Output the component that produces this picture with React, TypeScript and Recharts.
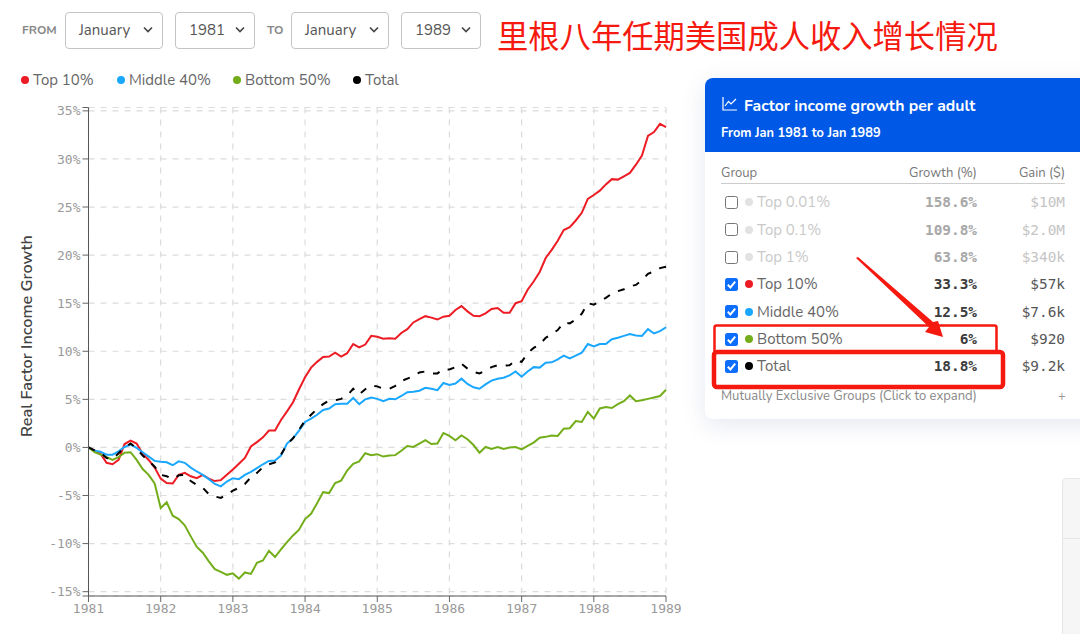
import React from "react";
import { LineChart, Line, XAxis, YAxis, CartesianGrid, Legend } from "recharts";

const MONTHS_FROM_START = Array.from({ length: 97 }, (_, i) => i);
const top10 = [0,-0.3,-0.65,-1.6,-1.75,-1.3,0.35,0.7,0.4,-0.65,-1.3,-2.1,-3.25,-3.7,-3.75,-2.85,-2.65,-3,-3.2,-2.85,-3.25,-3.5,-3.4,-2.85,-2.3,-1.7,-1.1,0.1,0.55,1.05,1.75,1.75,2.85,3.75,4.7,6.05,7.3,8.3,8.9,9.4,9.45,9.85,9.45,9.8,10.75,10.4,10.7,11.6,11.5,11.3,11.35,11.3,11.9,12.3,13,13.35,13.65,13.5,13.3,13.6,13.7,14.3,14.7,14.15,13.7,13.65,13.95,14.4,14.5,14,14,15,15.2,16.4,17.25,18.25,19.7,20.55,21.5,22.6,22.9,23.6,24.4,25.85,26.25,26.7,27.35,27.9,27.85,28.2,28.55,29.4,30.35,32.4,32.8,33.65,33.3];
const middle40 = [0,-0.35,-0.45,-0.75,-0.75,-0.4,0.05,0.3,-0.05,-0.5,-0.95,-1.4,-1.5,-1.55,-1.85,-1.45,-1.6,-2.1,-2.5,-2.85,-3.3,-3.8,-4.05,-3.55,-3.2,-3.3,-2.85,-2.55,-2.15,-1.75,-1.4,-1.35,-0.85,0.4,0.95,1.75,2.65,3,3.4,3.9,4.05,4.5,4.55,4.55,5.15,4.5,5,5.2,5.05,4.8,5.05,5,5.35,5.75,5.8,5.9,6.2,6.1,5.95,6.7,6.5,6.65,7.15,6.6,6.25,6.1,6.55,6.95,7.15,7.25,7.5,7.9,7.35,7.9,8.35,8.3,8.8,8.85,9.15,9.55,9.25,9.55,9.85,10.75,10.5,10.75,10.75,11.25,11.4,11.6,11.8,11.65,11.6,12.3,11.85,12.1,12.5];
const bottom50 = [0,-0.5,-0.75,-1,-1.3,-1,-0.55,-0.5,-1.3,-2.25,-2.85,-3.75,-6.3,-5.7,-7.1,-7.45,-8.1,-9.25,-10.35,-10.95,-11.85,-12.65,-12.95,-13.25,-13.1,-13.65,-13,-13.15,-12,-11.75,-10.75,-11.4,-10.6,-9.85,-9.15,-8.55,-7.45,-6.9,-5.8,-4.65,-4.75,-3.7,-3.45,-2.4,-1.7,-1.45,-0.6,-0.8,-0.7,-0.95,-0.85,-0.8,-0.35,0.15,0.05,0.4,0.75,0.35,0.4,1.5,1.2,0.75,1.25,0.85,0.25,-0.55,0.05,-0.15,0.05,-0.15,0,0.05,-0.2,0.15,0.5,1,1.1,1.25,1.2,1.95,2,2.75,2.65,3.7,3,4.05,4.2,4.1,4.5,4.8,5.4,4.8,4.9,5.05,5.2,5.35,6];
const total = [0,-0.3,-0.55,-1.1,-1.2,-0.6,0,0.4,-0.1,-0.85,-1.4,-2,-2.85,-3,-3.3,-2.9,-2.85,-3.5,-3.9,-4.2,-4.85,-5.1,-5.25,-4.9,-4.5,-4.2,-3.8,-3.1,-2.65,-2.05,-1.75,-1.55,-0.75,0.3,0.95,1.85,2.8,3.4,4,4.5,4.9,4.9,5.05,5.4,6.1,5.5,6.05,6.45,6.35,6.1,6.1,6.4,6.9,7.15,7.4,7.8,7.9,7.7,7.7,8.15,8.1,8.35,8.7,8.2,7.85,7.7,8,8.35,8.55,8.5,8.55,9.05,8.9,9.8,10.35,10.7,11.4,11.8,12.2,13,12.9,13.3,13.9,15,14.85,15.2,15.55,16,16.25,16.45,16.75,16.9,17.4,18.05,18.3,18.65,18.8];

const yearTicks = [1981, 1982, 1983, 1984, 1985, 1986, 1987, 1988, 1989];
const percentTicks = [-15, -10, -5, 0, 5, 10, 15, 20, 25, 30, 35];
const Y_MIN = -15.45;
const Y_MAX = 35.35;

const chartData = MONTHS_FROM_START.map((m, i) => ({
  date: 1981 + m / 12,
  top10: top10[i],
  middle40: middle40[i],
  bottom50: bottom50[i],
  total: total[i],
}));

const legendItems = [
  { name: "Top 10%", color: "#ed1c24", dotX: 25, textX: 33 },
  { name: "Middle 40%", color: "#1aa7ff", dotX: 121, textX: 129 },
  { name: "Bottom 50%", color: "#73ae1a", dotX: 237, textX: 245 },
  { name: "Total", color: "#000000", dotX: 357, textX: 365 },
];

const rowsMuted = [
  { name: "Top 0.01%", growth: "158.6%", gain: "$10M", y: 202 },
  { name: "Top 0.1%", growth: "109.8%", gain: "$2.0M", y: 229.5 },
  { name: "Top 1%", growth: "63.8%", gain: "$340k", y: 257 },
];
const rowsActive = [
  { name: "Top 10%", growth: "33.3%", gain: "$57k", y: 284, color: "#ed1c24" },
  { name: "Middle 40%", growth: "12.5%", gain: "$7.6k", y: 311.5, color: "#1aa7ff" },
  { name: "Bottom 50%", growth: "6%", gain: "$920", y: 339, color: "#73ae1a" },
  { name: "Total", growth: "18.8%", gain: "$9.2k", y: 366, color: "#000000" },
];

const UI = "Nunito, Lato, 'Noto Sans', sans-serif";
const MONO = "'DejaVu Sans Mono', monospace";

const abs = (left: number, top: number, extra: React.CSSProperties = {}): React.CSSProperties => ({
  position: "absolute",
  left,
  top,
  whiteSpace: "nowrap",
  ...extra,
});

function Select({ x, w, label }: { x: number; w: number; label: string }) {
  return (
    <div style={abs(x, 12, { width: w - 2, height: 35, border: "1px solid #c4c4c4", borderRadius: 4, background: "#fff" })}>
      <span style={abs(13, 0, { lineHeight: "35px", fontSize: 15, color: "#555", fontFamily: UI })}>{label}</span>
      <svg style={abs(w - 21, 13)} width={10} height={8}>
        <path d="M1 1.5 L5 5.5 L9 1.5" stroke="#444" strokeWidth={1.6} fill="none" />
      </svg>
    </div>
  );
}

function Check({ y, on }: { y: number; on: boolean }) {
  return (
    <div
      style={abs(725, y - 6.5, {
        width: on ? 13 : 11,
        height: on ? 13 : 11,
        borderRadius: 2.5,
        background: on ? "#0d6efd" : "#fff",
        border: on ? "none" : "1px solid #767676",
      })}
    >
      {on && (
        <svg width={13} height={13} style={{ display: "block" }}>
          <path d="M2.8 6.8 L5.4 9.4 L10.2 3.6" stroke="#fff" strokeWidth={2} fill="none" />
        </svg>
      )}
    </div>
  );
}

function Row({ name, growth, gain, y, color, muted }: { name: string; growth: string; gain: string; y: number; color: string; muted: boolean }) {
  return (
    <>
      <Check y={y} on={!muted} />
      <div style={abs(745, y - 4, { width: 8, height: 8, borderRadius: 4, background: color })} />
      <div style={abs(757, y - 10, { lineHeight: "20px", fontSize: 15, fontFamily: UI, color: muted ? "#c9c9c9" : "#666" })}>{name}</div>
      <div style={abs(877, y - 10, { width: 100, textAlign: "right", lineHeight: "20px", fontSize: 14.4, fontWeight: 700, fontFamily: MONO, color: muted ? "#a8a8a8" : "#3c3c3c" })}>{growth}</div>
      <div style={abs(985, y - 10, { width: 80, textAlign: "right", lineHeight: "20px", fontSize: 14.4, fontFamily: MONO, color: muted ? "#c4c4c4" : "#555" })}>{gain}</div>
    </>
  );
}

function ChartLegend() {
  return (
    <div style={{ position: "relative", width: 500, height: 20 }}>
      {legendItems.map((it) => (
        <React.Fragment key={it.name}>
          <div style={abs(it.dotX - 4, 6, { width: 8, height: 8, borderRadius: 4, background: it.color })} />
          <div style={abs(it.textX, 0, { lineHeight: "20px", fontSize: 15, fontFamily: UI, color: "#666" })}>{it.name}</div>
        </React.Fragment>
      ))}
    </div>
  );
}

export default function App() {
  return (
    <div style={{ position: "absolute", left: 0, top: 0, width: 1080, height: 634, overflow: "hidden", background: "#fff" }}>
      <div style={abs(22, 22, { fontSize: 12, lineHeight: "16px", fontWeight: 700, color: "#888", fontFamily: UI })}>FROM</div>
      <Select x={65} w={98} label="January" />
      <Select x={175} w={80} label="1981" />
      <div style={abs(267, 22, { fontSize: 12, lineHeight: "16px", fontWeight: 700, color: "#888", fontFamily: UI })}>TO</div>
      <Select x={291} w={98} label="January" />
      <Select x={401} w={80} label="1989" />
      <div style={abs(497, 13, { fontSize: 31.3, lineHeight: "44px", color: "#f5190f", fontFamily: "'Noto Sans CJK SC', sans-serif" })}>
        里根八年任期美国成人收入增长情况
      </div>

      <div style={abs(0, 0)}>
        <LineChart
          width={700}
          height={634}
          data={chartData}
          margin={{ top: 87.5, right: 34, bottom: 0, left: 0 }}
        >
          <CartesianGrid stroke="#dcdcdc" strokeDasharray="6 6" strokeWidth={1.2} />
          <XAxis
            dataKey="date"
            type="number"
            domain={[1981, 1989]}
            ticks={yearTicks}
            interval={0}
            allowDecimals={false}
            tickLine={{ stroke: "#666" }}
            tickSize={6}
            axisLine={{ stroke: "#555", strokeWidth: 1 }}
            tick={{ fill: "#999", fontSize: 13, fontFamily: MONO }}
            height={38}
          />
          <YAxis
            type="number"
            domain={[Y_MIN, Y_MAX]}
            ticks={[Y_MIN, ...percentTicks, Y_MAX]}
            interval={0}
            width={88.5}
            tickLine={{ stroke: "#666" }}
            tickSize={6}
            axisLine={{ stroke: "#555", strokeWidth: 1 }}
            tick={{ fill: "#999", fontSize: 13, fontFamily: MONO }}
            tickFormatter={(v: number) => (percentTicks.includes(v) ? `${v}%` : "")}
            label={{
              content: () => (
                <text
                  x={28}
                  y={336}
                  transform="rotate(-90 28 336)"
                  textAnchor="middle"
                  dominantBaseline="middle"
                  fill="#444"
                  fontSize={16.3}
                  fontWeight={600}
                  fontFamily={UI}
                >
                  Real Factor Income Growth
                </text>
              ),
            }}
          />
          <Legend
            verticalAlign="top"
            align="left"
            content={() => <ChartLegend />}
            wrapperStyle={{ position: "absolute", left: 0, top: 70, width: 500, height: 20 }}
          />
          <Line dataKey="top10" name="Top 10%" stroke="#ed1c24" strokeWidth={2} dot={false} isAnimationActive={false} />
          <Line dataKey="middle40" name="Middle 40%" stroke="#1aa7ff" strokeWidth={2} dot={false} isAnimationActive={false} />
          <Line dataKey="bottom50" name="Bottom 50%" stroke="#73ae1a" strokeWidth={2} dot={false} isAnimationActive={false} />
          <Line dataKey="total" name="Total" stroke="#000" strokeWidth={2} strokeDasharray="7 9" dot={false} isAnimationActive={false} />
        </LineChart>
      </div>

      <div style={abs(705, 78, { width: 400, height: 341, borderRadius: 8, background: "#fff", boxShadow: "0 6px 24px rgba(60,80,140,0.13)" })}>
        <div style={{ height: 74, background: "#0059e6", borderRadius: "8px 8px 0 0" }} />
      </div>
      <svg style={abs(722, 96)} width={16} height={16}>
        <path d="M1 1 V14 H15 M3 10 L6.5 5.5 L9 8 L14 3" stroke="#fff" strokeWidth={1.2} fill="none" />
      </svg>
      <div style={abs(744, 96, { fontSize: 15.8, lineHeight: "20px", fontWeight: 700, color: "#fff", fontFamily: UI })}>Factor income growth per adult</div>
      <div style={abs(721, 124, { fontSize: 12.8, lineHeight: "18px", fontWeight: 700, color: "#fff", fontFamily: UI })}>From Jan 1981 to Jan 1989</div>

      <div style={abs(721, 165, { fontSize: 13, lineHeight: "16px", color: "#777", fontFamily: UI })}>Group</div>
      <div style={abs(877, 165, { width: 100, textAlign: "right", fontSize: 13, lineHeight: "16px", color: "#777", fontFamily: UI })}>Growth (%)</div>
      <div style={abs(985, 165, { width: 80, textAlign: "right", fontSize: 13, lineHeight: "16px", color: "#777", fontFamily: UI })}>Gain ($)</div>
      <div style={abs(721, 183, { width: 344, height: 1, background: "#ccc" })} />

      {rowsMuted.map((r) => (
        <Row key={r.name} {...r} color="#e2e2e2" muted />
      ))}
      {rowsActive.map((r) => (
        <Row key={r.name} {...r} muted={false} />
      ))}

      <div style={abs(721, 388, { fontSize: 13, lineHeight: "16px", color: "#888", fontFamily: UI })}>Mutually Exclusive Groups (Click to expand)</div>
      <div style={abs(1058, 388, { fontSize: 13, lineHeight: "16px", color: "#999", fontFamily: UI })}>+</div>

      <svg style={abs(0, 0)} width={1080} height={634}>
        <rect x={714.5} y={325.5} width={282} height={27} fill="none" stroke="#f5190f" strokeWidth={2.5} rx={2} />
        <rect x={714} y={352} width={289} height={35} fill="none" stroke="#f5190f" strokeWidth={4.5} rx={3} />
        <polygon points="856,258 858,257 933,322 938,321 943,337 925,332 929,327" fill="#f5190f" />
      </svg>

      <div style={abs(1062, 478, { width: 60, height: 200, border: "1px solid #e6e6e6", borderRadius: 4, background: "#f6f6f6" })}>
        <div style={abs(0, 59, { width: 60, height: 1, background: "#e6e6e6" })} />
      </div>
    </div>
  );
}
